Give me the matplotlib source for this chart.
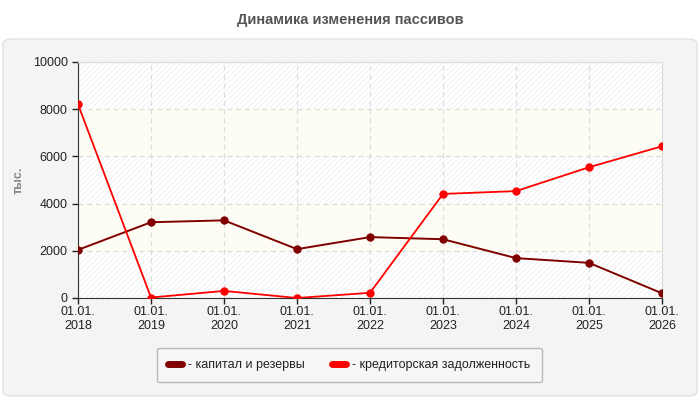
import matplotlib.pyplot as plt
from matplotlib.lines import Line2D
from matplotlib.patches import FancyBboxPatch

# =========================
# Data
# =========================
years = ["2018", "2019", "2020", "2021", "2022", "2023", "2024", "2025", "2026"]
capital = [2040, 3210, 3290, 2070, 2580, 2490, 1690, 1490, 200]
payables = [8210, 20, 300, 0, 220, 4410, 4530, 5540, 6430]

series_names = ["- капитал и резервы", "- кредиторская задолженность"]
series_colors = ["#800000", "#ff0000"]
y_ticks = [0, 2000, 4000, 6000, 8000, 10000]

plt.rcParams["font.family"] = ["Liberation Sans", "DejaVu Sans"]
plt.rcParams["hatch.linewidth"] = 0.5

fig = plt.figure(figsize=(7, 4), dpi=100)
fig.patch.set_facecolor("white")

# rounded grey panel behind the chart
panel = FancyBboxPatch((3 / 700, 4 / 400), 694 / 700, 357 / 400,
                       boxstyle="round,pad=0,rounding_size=0.012",
                       transform=fig.transFigure, facecolor="#f4f4f4",
                       edgecolor="#e2e2e2", linewidth=1.0, zorder=-5)
fig.patches.append(panel)

fig.text(0.5, 1 - 20 / 400, "Динамика изменения пассивов", ha="center", va="center",
         fontsize=10.5, fontweight="bold", color="#555555")

ax = fig.add_axes([78 / 700, 102 / 400, 584 / 700, 236 / 400])
ax.set_facecolor("white")

x = list(range(len(years)))

# alternating background bands
for i, lo in enumerate(y_ticks[:-1]):
    hi = y_ticks[i + 1]
    if i % 2 == 0:
        ax.axhspan(lo, hi, facecolor="white", edgecolor="#ebebeb", hatch="//////",
                   linewidth=0, zorder=0)
    else:
        ax.axhspan(lo, hi, facecolor="#fdfdf5", linewidth=0, zorder=0)

ax.plot(x, capital, color=series_colors[0], linewidth=1.4, marker="o", markersize=5, zorder=3)
ax.plot(x, payables, color=series_colors[1], linewidth=1.3, marker="o", markersize=5, zorder=3)

ax.set_xlim(0, len(years) - 1)
ax.set_ylim(0, 10000)
ax.set_yticks(y_ticks)
ax.set_xticks(x)
ax.set_xticklabels(["01.01.\n" + y for y in years])
ax.tick_params(axis="both", labelsize=9, colors="#222222", length=4, width=1)
ax.tick_params(axis="x", pad=2)

ax.grid(True, color="#dddddd", linestyle=(0, (4, 3)), linewidth=0.9, zorder=1)
ax.set_axisbelow(True)

for side in ["top", "right"]:
    ax.spines[side].set_color("#dddddd")
for side in ["left", "bottom"]:
    ax.spines[side].set_color("#333333")

ax.set_ylabel("тыс.", fontsize=9, fontweight="bold", color="#888888", va="center")
ax.yaxis.set_label_coords(-0.101, 0.5)

handles = [Line2D([0], [0], color=c, linewidth=5, solid_capstyle="round") for c in series_colors]
leg = fig.legend(handles, series_names, loc="center", bbox_to_anchor=(349 / 700, 1 - 365 / 400),
                 ncol=2, fontsize=9, frameon=True, handlelength=1.1, handletextpad=0.5,
                 columnspacing=2.2, borderpad=0.9, fancybox=True)
leg.get_frame().set_facecolor("#f7f7f7")
leg.get_frame().set_edgecolor("#aaaaaa")
leg.get_frame().set_linewidth(1.0)
for t in leg.get_texts():
    t.set_color("#222222")

fig.savefig("out.png", dpi=100)
